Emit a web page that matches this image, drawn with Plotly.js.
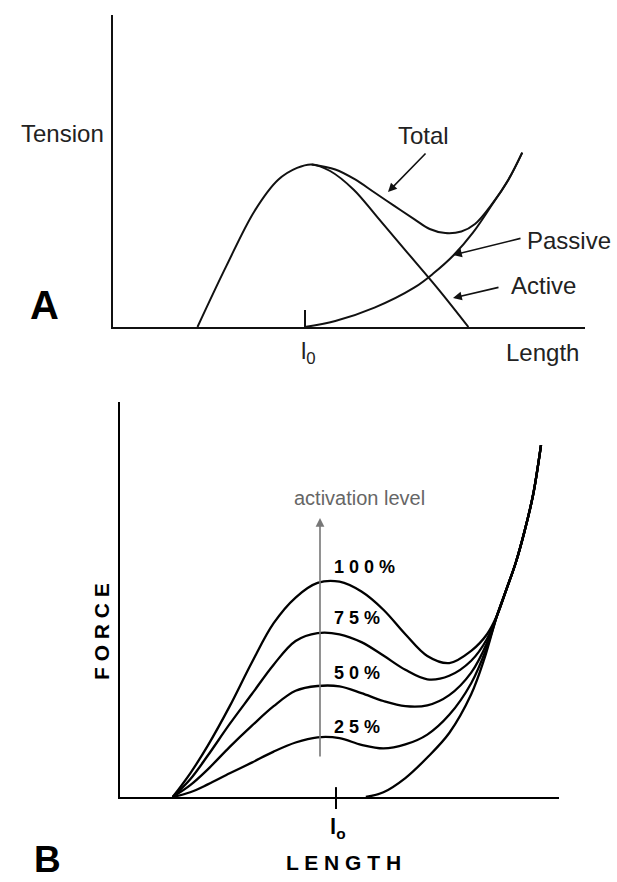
<!DOCTYPE html>
<html>
<head>
<meta charset="utf-8">
<script src="https://cdn.plot.ly/plotly-3.0.1.min.js"></script>
<style>html,body{margin:0;padding:0;background:#fff}#chart{width:617px;height:882px}</style>
</head>
<body>
<div id="chart"></div>
<script>
// ---------- Panel A : Tension vs Length ----------
const A_L0 = 4.06;
const A_activeLength  = [1.79, 2.40, 3.00, 3.50, 3.90, 4.21, 4.60, 5.10, 5.60, 6.20, 6.90, 7.53];
const A_activeTension = [0, 1.95, 3.72, 4.72, 5.10, 5.21, 5.00, 4.40, 3.52, 2.45, 1.20, 0];
const A_passiveLength  = [4.06, 4.71, 5.54, 6.38, 6.79, 7.21, 7.63, 8.04, 8.38, 8.67];
const A_passiveTension = [0, 0.19, 0.62, 1.26, 1.72, 2.29, 3.03, 3.94, 4.73, 5.59];
const A_totalLength  = [4.21, 4.71, 5.13, 5.54, 5.96, 6.38, 6.71, 7.04, 7.38, 7.67, 8.04, 8.38, 8.67];
const A_totalTension = [5.21, 5.05, 4.73, 4.31, 3.88, 3.46, 3.14, 3.01, 3.06, 3.30, 3.96, 4.73, 5.59];

// ---------- Panel B : Force vs Length at activation levels ----------
const B_L0 = 4.92;
const B_levels = ["100%", "75%", "50%", "25%"];
const B_tailLength = [8.59, 8.80, 9.02, 9.22, 9.41, 9.59];
const B_tailForce  = [4.60, 5.25, 5.95, 6.75, 7.65, 8.91];
const B_length   = [1.2, 1.6, 2.0, 2.5, 3.0, 3.5, 4.0, 4.5, 5.0, 5.5, 6.0, 6.5, 7.0, 7.5, 8.0, 8.36];
const B_force100 = [0, 0.60, 1.30, 2.30, 3.40, 4.40, 5.05, 5.42, 5.45, 5.20, 4.74, 4.12, 3.57, 3.39, 3.70, 4.12];
const B_force75  = [0, 0.45, 1.05, 1.85, 2.60, 3.35, 3.95, 4.15, 4.12, 3.92, 3.58, 3.22, 2.98, 3.07, 3.45, 4.00];
const B_force50  = [0, 0.30, 0.70, 1.27, 1.80, 2.30, 2.69, 2.81, 2.80, 2.63, 2.43, 2.30, 2.32, 2.58, 3.15, 3.90];
const B_force25  = [0, 0.12, 0.32, 0.60, 0.87, 1.15, 1.38, 1.51, 1.49, 1.32, 1.23, 1.33, 1.58, 2.08, 2.88, 3.80];
const B_lenPassive   = [5.6, 6.0, 6.5, 7.0, 7.5, 8.0, 8.3];
const B_forcePassive = [0, 0.12, 0.48, 1.00, 1.62, 2.60, 3.50];

const W = 617, H = 882;
function P(px, py) { return {x: px / W, y: 1 - py / H}; }

const lineA = {color: '#111', width: 2};
const lineB = {color: '#000', width: 2.3};
function curve(x, y, ax, line) {
  return {x: x, y: y, xaxis: ax[0], yaxis: ax[1], mode: 'lines', type: 'scatter',
          line: Object.assign({shape: 'spline', smoothing: 1}, line), hoverinfo: 'skip'};
}
const bForces = [B_force100, B_force75, B_force50, B_force25];
const traces = [
  curve(A_activeLength, A_activeTension, ['x', 'y'], lineA),
  curve(A_passiveLength, A_passiveTension, ['x', 'y'], lineA),
  curve(A_totalLength, A_totalTension, ['x', 'y'], lineA)
];
bForces.forEach(f => traces.push(curve(B_length.concat(B_tailLength), f.concat(B_tailForce), ['x2', 'y2'], lineB)));
traces.push(curve(B_lenPassive.concat(B_tailLength), B_forcePassive.concat(B_tailForce), ['x2', 'y2'], lineB));

const FAM = 'Liberation Sans, Arial, sans-serif';
const fA = {family: FAM, size: 24, color: '#222'};
const fBold = {family: FAM, size: 21, color: '#000', weight: 'bold'};
function txt(text, px, py, font, extra) {
  const p = P(px, py);
  return Object.assign({text: text, x: p.x, y: p.y, xref: 'paper', yref: 'paper',
    showarrow: false, xanchor: 'center', yanchor: 'middle', font: font}, extra || {});
}
function arrow(headPx, headPy, tailPx, tailPy, color, width) {
  const p = P(headPx, headPy);
  return {text: '', x: p.x, y: p.y, xref: 'paper', yref: 'paper', showarrow: true,
    ax: tailPx - headPx, ay: tailPy - headPy, arrowhead: 2, arrowsize: 1.1,
    arrowwidth: width, arrowcolor: color, standoff: 0, startstandoff: 0};
}

const pctFont = {family: FAM, size: 18, color: '#000', weight: 'bold'};
const pctY = [567, 618, 673, 727];
const pctText = B_levels.map(s => s.split('').join(' '));

const annotations = [
  txt('Tension', 62, 133, fA),
  txt('Total', 423, 135, fA),
  txt('Passive', 569, 240, fA),
  txt('Active', 543, 285, fA),
  txt('Length', 542, 352, fA),
  txt('l<sub>0</sub>', 308, 352, fA),
  txt('A', 44, 305, {family: FAM, size: 40, color: '#000', weight: 'bold'}),
  arrow(388, 192, 427, 152, '#111', 1.6),
  arrow(453, 255, 522, 238, '#111', 1.6),
  arrow(453, 298, 500, 287, '#111', 1.6),

  txt('F O R C E', 101, 632, fBold, {textangle: -90}),
  txt('L E N G T H', 343, 862, fBold),
  txt('l<sub>o</sub>', 338, 828, Object.assign({}, fBold, {size: 22})),
  txt('B', 47, 882, {family: FAM, size: 37, color: '#000', weight: 'bold'}, {yanchor: 'bottom'}),
  txt('activation level', 360, 498, {family: FAM, size: 20, color: '#666'}),
  arrow(320, 518, 320, 758, '#777', 1.6)
];
pctText.forEach((t, i) => annotations.push(txt(t, 332, pctY[i], pctFont, {xanchor: 'left'})));

const axBase = {showgrid: false, zeroline: false, showline: true, linecolor: '#111', linewidth: 2,
  showticklabels: false, fixedrange: true, range: [0, 10], mirror: false};

const layout = {
  width: W, height: H, margin: {l: 0, r: 0, t: 0, b: 0, pad: 0},
  paper_bgcolor: '#fff', plot_bgcolor: 'rgba(0,0,0,0)', showlegend: false,
  xaxis: Object.assign({}, axBase, {domain: [113 / W, 585 / W], anchor: 'y',
    tickmode: 'array', tickvals: [A_L0], ticks: 'inside', ticklen: 17, tickwidth: 2, tickcolor: '#111'}),
  yaxis: Object.assign({}, axBase, {domain: [1 - 327 / H, 1 - 15 / H], anchor: 'x'}),
  xaxis2: Object.assign({}, axBase, {domain: [120 / W, 559 / W], anchor: 'y2', linecolor: '#000',
    tickmode: 'array', tickvals: [B_L0], ticks: 'outside', ticklen: 10, tickwidth: 2, tickcolor: '#000'}),
  yaxis2: Object.assign({}, axBase, {domain: [1 - 797 / H, 1 - 402 / H], anchor: 'x2', linecolor: '#000'}),
  shapes: [{type: 'line', xref: 'x2', yref: 'y2', x0: B_L0, x1: B_L0, y0: 0, y1: 0.25,
            line: {color: '#000', width: 2}}],
  annotations: annotations
};

Plotly.newPlot('chart', traces, layout, {staticPlot: true, displayModeBar: false});
</script>
</body>
</html>
